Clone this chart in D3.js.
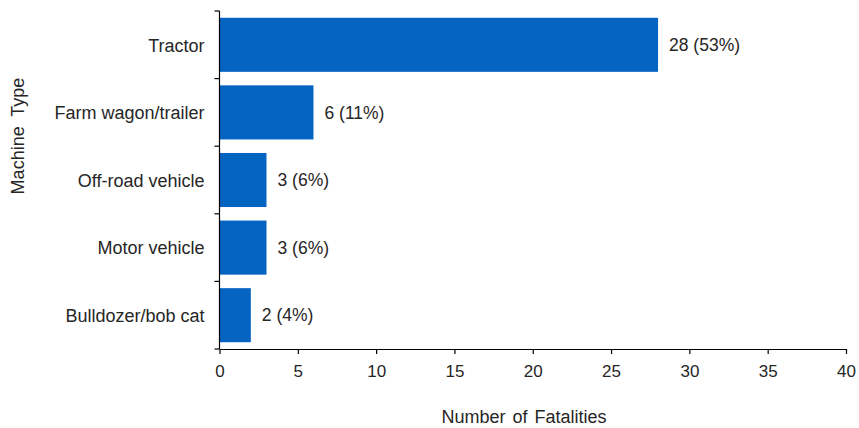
<!DOCTYPE html>
<html>
<head>
<meta charset="utf-8">
<script src="https://cdn.jsdelivr.net/npm/d3@7"></script>
<style>
  html, body { margin: 0; padding: 0; background: #fff; }
  svg text { font-family: "Liberation Sans", Arial, sans-serif; fill: #262626; }
</style>
</head>
<body>
<svg id="chart" width="859" height="428"></svg>
<script>
// Machine types involved in fatalities, with counts and share of total
const categories = ["Tractor", "Farm wagon/trailer", "Off-road vehicle", "Motor vehicle", "Bulldozer/bob cat"];
const fatalities = [28, 6, 3, 3, 2];
const shares = ["53%", "11%", "6%", "6%", "4%"];
const xTicks = [0, 5, 10, 15, 20, 25, 30, 35, 40];

const svg = d3.select("#chart");
const margin = { top: 11, left: 219.5, right: 13, bottom: 79 };
const W = 859, H = 428;

const x = d3.scaleLinear().domain([0, 40]).range([margin.left, W - margin.right]);
const y = d3.scaleBand().domain(categories).range([margin.top, H - margin.bottom]).paddingInner(0.2).paddingOuter(0.1);

// bars
svg.append("g").selectAll("rect")
  .data(categories)
  .join("rect")
  .attr("x", x(0))
  .attr("y", d => y(d))
  .attr("width", (d, i) => x(fatalities[i]) - x(0))
  .attr("height", y.bandwidth())
  .attr("fill", "#0563C1");

// value labels
svg.append("g").selectAll("text")
  .data(categories)
  .join("text")
  .attr("x", (d, i) => x(fatalities[i]) + 11)
  .attr("y", d => y(d) + y.bandwidth() / 2)
  .attr("dy", "0.35em")
  .attr("font-size", 17.5)
  .text((d, i) => `${fatalities[i]} (${shares[i]})`);

// y axis with boundary ticks between categories
const yAxis = svg.append("g");
yAxis.append("line")
  .attr("x1", x(0)).attr("x2", x(0))
  .attr("y1", margin.top).attr("y2", H - margin.bottom)
  .attr("stroke", "#000").attr("stroke-width", 1.2);
const bounds = d3.range(categories.length + 1).map(i => margin.top + i * ((H - margin.bottom - margin.top) / categories.length));
yAxis.selectAll("line.tick")
  .data(bounds)
  .join("line")
  .attr("class", "tick")
  .attr("x1", x(0) - 5).attr("x2", x(0))
  .attr("y1", d => d).attr("y2", d => d)
  .attr("stroke", "#000").attr("stroke-width", 1.2);
yAxis.selectAll("text")
  .data(categories)
  .join("text")
  .attr("x", x(0) - 15)
  .attr("y", d => y(d) + y.bandwidth() / 2)
  .attr("dy", "0.38em")
  .attr("text-anchor", "end")
  .attr("font-size", 18)
  .text(d => d);

// x axis
const xAxis = svg.append("g")
  .attr("transform", `translate(0,${H - margin.bottom})`)
  .call(d3.axisBottom(x).tickValues(xTicks).tickSize(5).tickSizeOuter(0).tickPadding(11));
xAxis.select(".domain").attr("stroke", "#000").attr("stroke-width", 1.2);
xAxis.selectAll(".tick line").attr("stroke", "#000").attr("stroke-width", 1.2);
xAxis.selectAll(".tick text")
  .attr("font-size", 17)
  .attr("font-family", "Liberation Sans, Arial, sans-serif")
  .attr("fill", "#262626");

// axis titles
svg.append("text")
  .attr("x", 524)
  .attr("y", 423)
  .attr("text-anchor", "middle")
  .attr("font-size", 18)
  .attr("word-spacing", 2)
  .text("Number of Fatalities");

svg.append("text")
  .attr("transform", `translate(24,136) rotate(-90)`)
  .attr("text-anchor", "middle")
  .attr("font-size", 18)
  .attr("word-spacing", 5)
  .text("Machine Type");
</script>
</body>
</html>
